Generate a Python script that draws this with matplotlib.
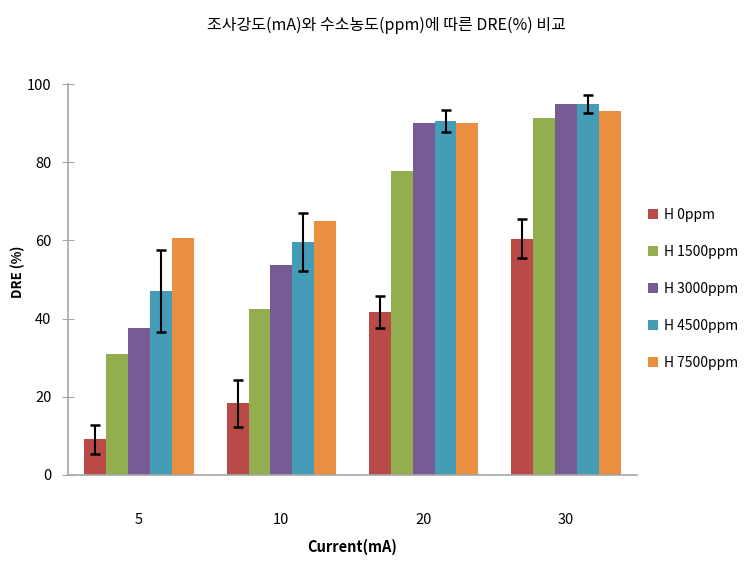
import matplotlib
matplotlib.use("Agg")
import matplotlib.pyplot as plt
import numpy as np

plt.rcParams['font.family'] = ['Noto Sans CJK KR', 'DejaVu Sans']

categories = ['5', '10', '20', '30']
series = ['H 0ppm', 'H 1500ppm', 'H 3000ppm', 'H 4500ppm', 'H 7500ppm']
h0 = [9.1, 18.3, 41.8, 60.4]
h1500 = [30.9, 42.5, 77.7, 91.4]
h3000 = [37.6, 53.7, 89.9, 95.0]
h4500 = [47.0, 59.6, 90.6, 95.0]
h7500 = [60.5, 65.0, 89.9, 93.1]
err_h0 = [3.7, 6.0, 4.1, 5.0]
err_h4500 = [10.5, 7.3, 2.8, 2.3]

values = [h0, h1500, h3000, h4500, h7500]
errors = [err_h0, None, None, err_h4500, None]
colors = ['#B94A48', '#93AE4F', '#765B95', '#449CB6', '#EA8E40']

W, H = 756, 567
fig = plt.figure(figsize=(W / 100, H / 100), dpi=100)
ax = fig.add_axes([68 / W, 1 - 475 / H, (637 - 68) / W, (475 - 84) / H])

x = np.arange(len(categories))
w = 0.154
for i, (vals, err, c, lab) in enumerate(zip(values, errors, colors, series)):
    pos = x + (i - 2) * w
    ax.bar(pos, vals, width=w, color=c, label=lab, edgecolor='none', zorder=2)
    if err is not None:
        ax.errorbar(pos, vals, yerr=err, fmt='none', ecolor='black',
                    elinewidth=1.5, capsize=3.5, capthick=1.8, zorder=3)

ax.set_xlim(-0.5, 3.5)
ax.set_ylim(0, 100)
ax.set_yticks([0, 20, 40, 60, 80, 100])
ax.set_xticks(x)
ax.set_xticklabels(categories)
for s in ['top', 'right']:
    ax.spines[s].set_visible(False)
for s in ['left', 'bottom']:
    ax.spines[s].set_color('#A6A6A6')
    ax.spines[s].set_linewidth(1.2)
ax.tick_params(axis='y', direction='inout', length=8, color='#A6A6A6',
               labelsize=10.5, pad=8)
ax.tick_params(axis='x', length=0, labelsize=10.5, pad=27)

fig.text(18 / W, 1 - 272 / H, 'DRE (%)', rotation=90, ha='center', va='center',
         fontsize=9.5, fontweight='bold')
fig.text(352 / W, 1 - 547 / H, 'Current(mA)', ha='center', va='center',
         fontsize=10.5, fontweight='bold')

fig.text(386 / W, 1 - 25 / H, '조사강도(mA)와 수소농도(ppm)에 따른 DRE(%) 비교',
         ha='center', va='center', fontsize=11.5, fontweight='medium')

leg = ax.legend(loc='center left', bbox_to_anchor=((648 - 68) / 569, 0.476),
                frameon=False, fontsize=10, handlelength=0.75, handleheight=0.75,
                handletextpad=0.4, labelspacing=1.65, borderpad=0,
                borderaxespad=0)

fig.savefig('out.png', dpi=100)
